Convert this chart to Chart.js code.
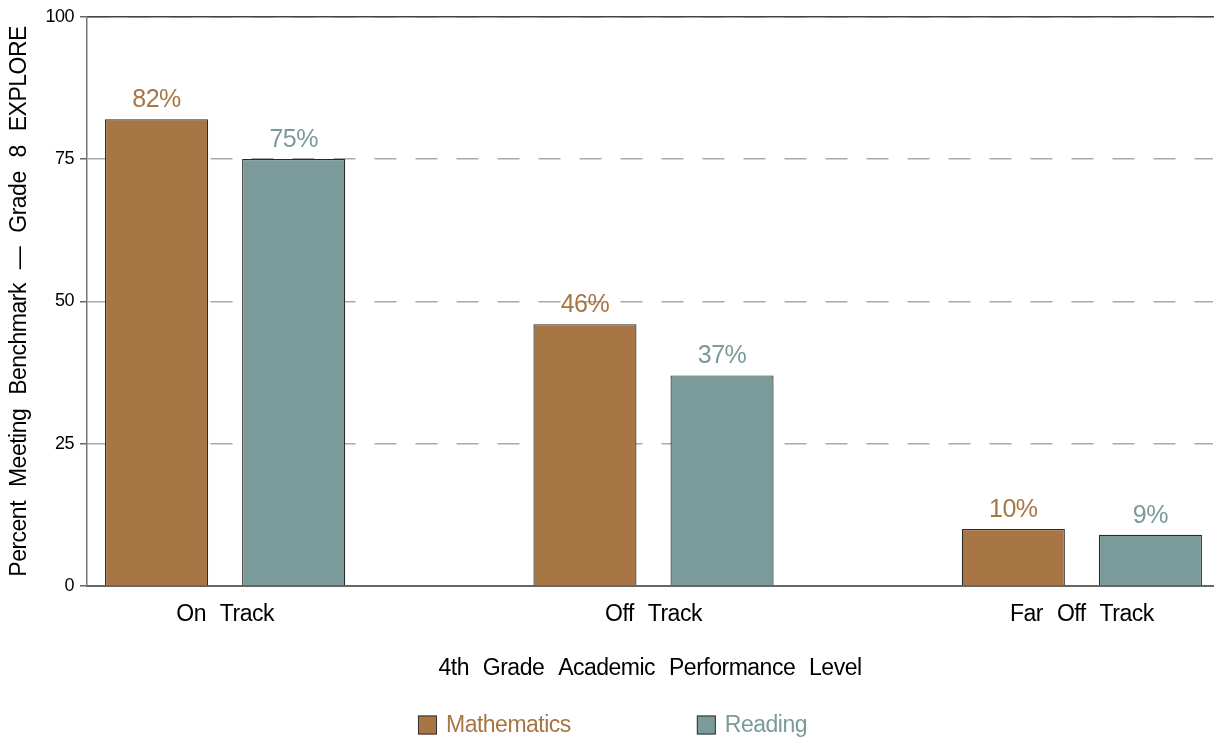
<!DOCTYPE html>
<html>
<head>
<meta charset="utf-8">
<script src="https://cdn.jsdelivr.net/npm/chart.js@4.4.1/dist/chart.umd.min.js"></script>
<style>
html, body { margin: 0; padding: 0; background: #fff; }
#wrap { width: 1215px; height: 739px; }
</style>
</head>
<body>
<div id="wrap"><canvas id="chart"></canvas></div>
<script>
var categories = ['On Track', 'Off Track', 'Far Off Track'];
var mathValues = [82, 46, 10];
var readingValues = [75, 37, 9];
var yTicks = [0, 25, 50, 75, 100];
var seriesNames = ['Mathematics', 'Reading'];

var FONT = '"Liberation Sans", Arial, Helvetica, sans-serif';
var MATH_COLOR = 'rgb(168, 118, 68)';
var READ_COLOR = 'rgb(122, 155, 154)';

Chart.defaults.font.family = FONT;
Chart.defaults.color = '#000';

function toPoints(values) {
    return values.map(function(v, i) { return { x: i, y: v }; });
}

// tight letters, wide word gaps, like the original
function setSpacing(ctx) {
    ctx.wordSpacing = '8px';
    ctx.letterSpacing = '-0.5px';
}

var textSpacing = {
    id: 'textSpacing',
    beforeLayout: function(chart) { setSpacing(chart.ctx); },
    beforeDraw: function(chart) { setSpacing(chart.ctx); }
};

var barLabels = {
    id: 'barLabels',
    afterDatasetsDraw: function(chart) {
        var ctx = chart.ctx;
        ctx.save();
        ctx.font = '25px ' + FONT;
        ctx.textAlign = 'center';
        ctx.textBaseline = 'alphabetic';
        chart.data.datasets.forEach(function(ds, i) {
            chart.getDatasetMeta(i).data.forEach(function(bar, j) {
                ctx.fillStyle = ds.backgroundColor;
                ctx.fillText(ds.data[j].y + '%', bar.x, bar.y - 12);
            });
        });
        ctx.restore();
    }
};

var bottomLegend = {
    id: 'bottomLegend',
    afterDraw: function(chart) {
        var ctx = chart.ctx;
        var box = 19, gap = 9, spacing = 126;
        ctx.save();
        ctx.font = '23px ' + FONT;
        var items = chart.data.datasets;
        var widths = items.map(function(ds) { return ctx.measureText(ds.label).width; });
        var total = 0;
        widths.forEach(function(w) { total += box + gap + w; });
        total += spacing * (items.length - 1);
        var x = chart.width / 2 - total / 2 + 5;
        var y = chart.height - 14;
        ctx.textBaseline = 'middle';
        ctx.textAlign = 'left';
        items.forEach(function(ds, i) {
            ctx.fillStyle = ds.backgroundColor;
            ctx.fillRect(x, y - box / 2, box, box);
            ctx.strokeStyle = '#333';
            ctx.lineWidth = 1;
            ctx.strokeRect(x + 0.5, y - box / 2 + 0.5, box - 1, box - 1);
            ctx.fillText(ds.label, x + box + gap, y + 1);
            x += box + gap + widths[i] + spacing;
        });
        ctx.restore();
    }
};

new Chart(document.getElementById('chart').getContext('2d'), {
    type: 'bar',
    data: {
        datasets: [{
            label: seriesNames[0],
            data: toPoints(mathValues),
            backgroundColor: MATH_COLOR,
            borderColor: '#2a2a2a',
            borderWidth: 1.2
        }, {
            label: seriesNames[1],
            data: toPoints(readingValues),
            backgroundColor: READ_COLOR,
            borderColor: '#2a2a2a',
            borderWidth: 1.2
        }]
    },
    options: {
        responsive: true,
        maintainAspectRatio: false,
        animation: false,
        categoryPercentage: 0.64,
        barPercentage: 0.752,
        layout: {
            padding: { top: 15, right: 2, bottom: 53, left: 0 }
        },
        plugins: {
            legend: { display: false },
            tooltip: { enabled: false }
        },
        scales: {
            x: {
                type: 'linear',
                position: 'bottom',
                min: -0.3224,
                max: 2.3061,
                offset: false,
                afterBuildTicks: function(scale) {
                    scale.ticks = categories.map(function(c, i) { return { value: i }; });
                },
                afterFit: function(scale) { scale.height = 100; },
                ticks: {
                    padding: 15,
                    autoSkip: false,
                    maxRotation: 0,
                    font: { size: 23 },
                    color: '#000',
                    callback: function(v) { return categories[v]; }
                },
                grid: { display: false, drawTicks: false },
                border: { display: true, color: '#666', width: 2 },
                title: {
                    display: true,
                    text: '4th Grade Academic Performance Level',
                    font: { size: 23 },
                    color: '#000',
                    padding: { top: 0, bottom: 4 }
                }
            },
            xTop: {
                type: 'linear',
                position: 'top',
                afterFit: function(scale) { scale.height = 0; },
                ticks: { display: false },
                grid: { display: false, drawTicks: false },
                border: { display: true, color: '#444', width: 1.5 }
            },
            y: {
                min: 0,
                max: 100,
                afterBuildTicks: function(scale) {
                    scale.ticks = yTicks.map(function(v) { return { value: v }; });
                },
                afterFit: function(scale) { scale.width = 87; },
                ticks: {
                    padding: 6,
                    font: { size: 18 },
                    color: '#000'
                },
                grid: {
                    color: '#aaaaaa',
                    lineWidth: 1.5,
                    tickColor: '#666',
                    tickLength: 7,
                    tickWidth: 1.5
                },
                border: { display: true, color: '#777', width: 1.5, dash: [22, 19] },
                title: {
                    display: true,
                    text: 'Percent Meeting Benchmark \u2014 Grade 8 EXPLORE',
                    font: { size: 23 },
                    color: '#000',
                    padding: { top: 6, bottom: 0 }
                }
            }
        }
    },
    plugins: [textSpacing, barLabels, bottomLegend]
});
</script>
</body>
</html>
